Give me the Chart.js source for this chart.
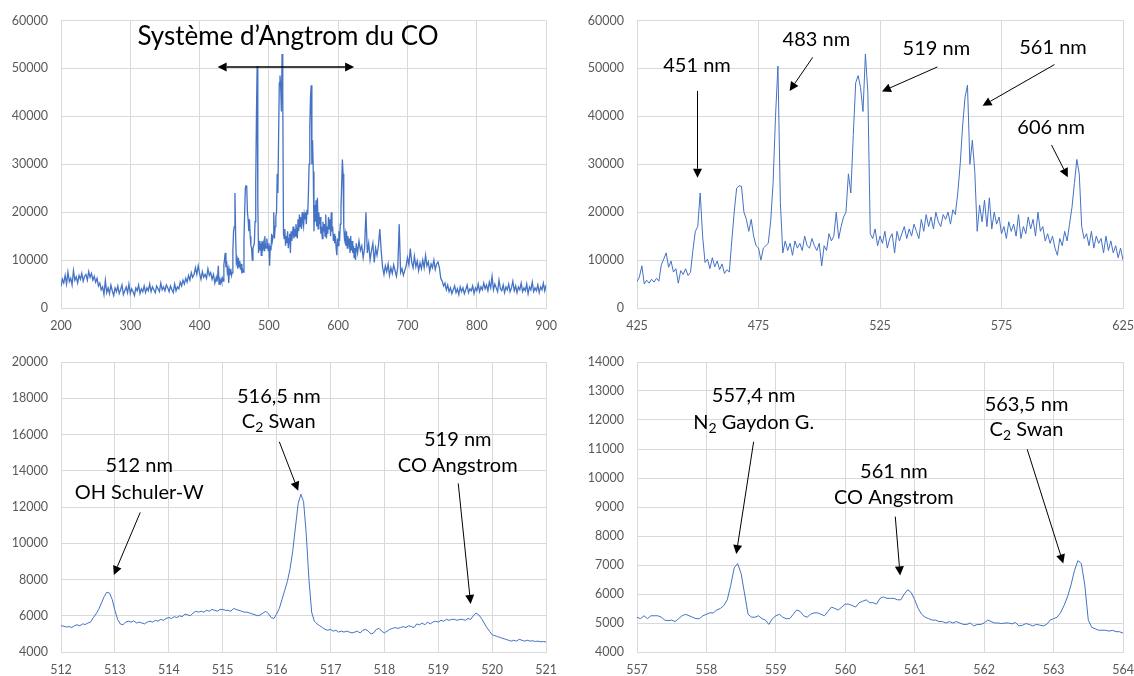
<!DOCTYPE html>
<html>
<head>
<meta charset="utf-8">
<title>Spectres CO</title>
<script src="https://cdn.jsdelivr.net/npm/chart.js@4.4.0/dist/chart.umd.min.js"></script>
<style>
  html, body { margin: 0; padding: 0; background: #fff; overflow: hidden; }
  #page { position: relative; width: 1134px; height: 676px; }
  .panel { position: absolute; }
  .panel canvas { display: block; }
</style>
</head>
<body>
<div id="page">
  <div class="panel" style="left:0;top:0"><canvas id="wide" width="567" height="334"></canvas></div>
  <div class="panel" style="left:567px;top:0"><canvas id="band" width="580" height="334"></canvas></div>
  <div class="panel" style="left:0;top:334px"><canvas id="zoom519" width="567" height="342"></canvas></div>
  <div class="panel" style="left:567px;top:334px"><canvas id="zoom561" width="580" height="342"></canvas></div>
</div>
<script>
// --- Spectre large : 200-424 nm, pas de 2 nm
const uvStart = 200;
const uvCounts = [
    4500, 6000, 5200, 6800, 5000, 7500, 5500, 6200, 4800, 7800,
    5800, 6500, 5200, 6800, 6000, 7200, 5600, 6600, 7000, 5800,
    7600, 6400, 7200, 5800, 6600, 5400, 6200, 4600, 5200, 3800,
    4400, 2800, 5800, 3200, 4200, 3000, 4800, 3600, 2600, 4200,
    3400, 4600, 3000, 3800, 4800, 2800, 3600, 4400, 3200, 5000,
    3000, 4000, 3400, 2600, 4200, 3600, 4800, 3000, 4000, 3400,
    4600, 3200, 4200, 3600, 5000, 3400, 4400, 3800, 3200, 4600,
    4000, 3400, 5200, 3800, 4400, 3600, 4800, 4200, 3400, 4600,
    3800, 3200, 5000, 3600, 4400, 4000, 5400, 4600, 5800, 5000,
    6200, 5400, 6800, 5800, 7400, 6400, 7000, 8400, 7000, 8800,
    7200, 6000, 7600, 6400, 7000, 6200, 8200, 6800, 7400, 6000,
    7000, 5200, 6400
];

// --- Bande d'Angstrom : 425-625 nm, pas de 1 nm (graphe en haut a droite)
const bandStart = 425;
const bandCounts = [
    5500, 6500, 8800, 5000, 5800, 5200, 6000, 5400, 6200, 5600,
    9000, 10200, 11500, 8500, 9800, 7500, 8200, 5200, 7800, 7000,
    8200, 6800, 7400, 12000, 16000, 17000, 24000, 15000, 9500, 10200,
    8200, 10500, 8600, 9800, 8000, 9200, 7200, 8000, 7500, 14000,
    20000, 25000, 25500, 25400, 20000, 18500, 16000, 18500, 15000, 13000,
    12500, 10000, 12500, 13000, 13500, 18000, 26000, 40000, 50500, 22000,
    11500, 14000, 12000, 13500, 11000, 14000, 12500, 13500, 12000, 15000,
    13000, 12500, 14500, 13000, 12000, 13500, 8800, 13000, 12000, 15500,
    14000, 15000, 20000, 14500, 17000, 19000, 20000, 28000, 24000, 36000,
    47000, 48500, 46000, 41000, 53000, 45000, 15500, 14500, 16500, 13000,
    15000, 13500, 16000, 12500, 14500, 15500, 11500, 16000, 14000, 15500,
    17000, 14500, 16500, 15000, 17500, 16000, 14500, 18500, 16000, 19500,
    17000, 19000, 16500, 20000, 18000, 17000, 19500, 18500, 20000, 17500,
    20500, 19500, 24000, 30000, 38000, 44000, 46500, 30000, 35000, 28500,
    16000, 21500, 18000, 22500, 17000, 23000, 16500, 20000, 17500, 19000,
    15500, 17000, 14500, 18000, 16000, 17500, 15000, 19500, 14500, 17000,
    15500, 19000, 16500, 18500, 15000, 20000, 16000, 17000, 14000, 15500,
    13500, 15000, 12500, 11000, 14500, 13000, 16000, 14000, 17500, 21000,
    26000, 31000, 28000, 17000, 14500, 15500, 13000, 16000, 12500, 15000,
    13500, 14500, 11500, 15000, 12000, 14000, 11500, 13000, 10500, 12500,
    10000
];

// --- Spectre large : 626-900 nm, pas de 2 nm
const redStart = 626;
const redCounts = [
    13500, 11500, 14000, 12000, 13000, 10500, 12500, 20000, 11500, 13500,
    10000, 12000, 13500, 9500, 12500, 11000, 13000, 16500, 12000, 8500,
    7000, 8800, 7600, 9200, 6800, 8400, 7200, 9000, 7800, 6600,
    8600, 17500, 7400, 8200, 6800, 7800, 8800, 10500, 9000, 12400,
    9600, 8400, 10800, 8600, 9800, 7800, 9400, 8200, 10000, 8400,
    11000, 8800, 9600, 7600, 9200, 8400, 10000, 8000, 9200, 9600,
    8400, 6200, 5600, 4600, 5200, 3800, 4800, 3400, 4200, 3000,
    3800, 4600, 3200, 4000, 2800, 4400, 3400, 4200, 3000, 3800,
    4800, 3200, 4000, 3600, 4600, 3000, 4200, 3600, 5000, 3400,
    4400, 3800, 5200, 4000, 4800, 3600, 5400, 4200, 6600, 3800,
    5000, 4200, 3400, 5800, 4000, 3600, 4800, 3200, 4400, 3800,
    5000, 3400, 4200, 5600, 3600, 4600, 3200, 4400, 3800, 5200,
    3400, 4200, 3600, 5000, 3000, 4400, 3800, 5400, 3400, 4200,
    3600, 4800, 3200, 4400, 3800, 5200, 3600, 4800
];

// --- Haute resolution autour de 519 nm : 512-521 nm, pas de 0,05 nm
const hr519Start = 512;
const hr519Counts = [
    5450, 5420, 5380, 5400, 5350, 5450, 5500, 5450, 5550, 5520, 5600, 5650, 5900, 6100, 6350, 6700, 7050, 7300, 7250, 6900,
    6300, 5800, 5550, 5500, 5650, 5700, 5650, 5720, 5600, 5650, 5600, 5550, 5650, 5700, 5650, 5750, 5700, 5800, 5750, 5850,
    5900, 5850, 5950, 5900, 6000, 5950, 6100, 6050, 6000, 6150, 6250, 6200, 6250, 6200, 6300, 6250, 6350, 6300, 6250, 6350,
    6350, 6300, 6300, 6250, 6400, 6350, 6300, 6250, 6200, 6200, 6150, 6100, 6050, 6000, 6050, 6150, 6250, 6100, 5900, 5850,
    6100, 6400, 6900, 7400, 7900, 8600, 9600, 10900, 12200, 12700, 12300, 10500, 8000, 6200, 5700, 5550, 5450, 5350, 5250, 5200,
    5250, 5150, 5200, 5100, 5150, 5100, 5150, 5100, 5050, 5100, 5150, 5050, 5200, 5250, 5150, 5000, 5050, 5250, 5300, 5150,
    5050, 5150, 5250, 5300, 5350, 5300, 5350, 5400, 5350, 5450, 5400, 5350, 5550, 5500, 5600, 5500, 5650, 5550, 5650, 5700,
    5650, 5750, 5700, 5800, 5750, 5800, 5800, 5750, 5800, 5800, 5750, 5850, 5800, 6000, 6150, 6050, 5850, 5600, 5350, 5150,
    4950, 4900, 4850, 4800, 4750, 4700, 4650, 4600, 4650, 4600, 4700, 4650, 4600, 4650, 4600, 4620, 4580, 4600, 4560, 4580,
    4550
];

// --- Haute resolution autour de 561 nm : 557-564 nm, pas de 0,05 nm
const hr561Start = 557;
const hr561Counts = [
    5200, 5150, 5250, 5150, 5250, 5250, 5250, 5200, 5100, 5080, 5100, 5050, 5150, 5250, 5300, 5250, 5200, 5150, 5150, 5250,
    5300, 5350, 5350, 5450, 5500, 5600, 5800, 6300, 6900, 7050, 6700, 6000, 5300, 5200, 5200, 5250, 5150, 5100, 4950, 5150,
    5250, 5300, 5200, 5150, 5150, 5300, 5450, 5400, 5250, 5200, 5300, 5350, 5350, 5300, 5250, 5400, 5550, 5500, 5450, 5550,
    5650, 5650, 5600, 5550, 5700, 5750, 5800, 5700, 5700, 5650, 5850, 5900, 5850, 5850, 5850, 5800, 5800, 6000, 6150, 6050,
    5800, 5500, 5300, 5200, 5150, 5100, 5100, 5050, 5050, 5000, 5050, 5000, 5050, 5000, 4950, 4950, 5000, 4900, 4950, 4950,
    5000, 5100, 5050, 5000, 5000, 4980, 5000, 5000, 4970, 5020, 4900, 4920, 4980, 4950, 4900, 4950, 4930, 4900, 4950, 5100,
    5150, 5200, 5350, 5600, 5900, 6300, 6800, 7150, 7050, 6300, 5100, 4850, 4800, 4750, 4750, 4750, 4720, 4750, 4700, 4700,
    4650
];

// Graduations des axes
const wideXTicks = [200, 300, 400, 500, 600, 700, 800, 900];
const bandXTicks = [425, 475, 525, 575, 625];
const hr519XTicks = [512, 513, 514, 515, 516, 517, 518, 519, 520, 521];
const hr561XTicks = [557, 558, 559, 560, 561, 562, 563, 564];
const countTicks = [0, 10000, 20000, 30000, 40000, 50000, 60000];
const hr519YTicks = [4000, 6000, 8000, 10000, 12000, 14000, 16000, 18000, 20000];
const hr561YTicks = [4000, 5000, 6000, 7000, 8000, 9000, 10000, 11000, 12000, 13000, 14000];

// Annotations (coordonnees en nm / coups)
const wideNotes = [
    {text: 'Système d’Angtrom du CO', x: 527.5, y: 56600, size: 26},
    {from: [426, 50300], to: [623, 50300], both: true, width: 1.5}
];
const bandNotes = [
    {text: '451 nm', x: 449.7, y: 50700},
    {from: [449.9, 45300], to: [449.9, 27200]},
    {text: '483 nm', x: 498.8, y: 56100},
    {from: [497.3, 52300], to: [487.8, 45300]},
    {text: '519 nm', x: 548.2, y: 54200},
    {from: [548.6, 50300], to: [525.8, 45200]},
    {text: '561 nm', x: 596.2, y: 54400},
    {from: [596.8, 50800], to: [567.2, 42200]},
    {text: '606 nm', x: 595.4, y: 37600},
    {from: [595.6, 34000], to: [602.3, 27300]}
];
const hr519Notes = [
    {text: '512 nm', x: 513.45, y: 14260},
    {text: 'OH Schuler-W', x: 513.45, y: 12800},
    {from: [513.47, 11700], to: [512.98, 8250]},
    {text: '516,5 nm', x: 516.04, y: 18120},
    {text: 'C_2 Swan', x: 516.04, y: 16740},
    {from: [516.05, 15600], to: [516.4, 12900]},
    {text: '519 nm', x: 519.36, y: 15730},
    {text: 'CO Angstrom', x: 519.36, y: 14310},
    {from: [519.37, 13300], to: [519.6, 6650]}
];
const hr561Notes = [
    {text: '557,4 nm', x: 558.68, y: 12830},
    {text: 'N_2 Gaydon G.', x: 558.68, y: 11910},
    {from: [558.68, 11250], to: [558.43, 7380]},
    {text: '561 nm', x: 560.70, y: 10220},
    {text: 'CO Angstrom', x: 560.70, y: 9330},
    {from: [560.72, 8670], to: [560.79, 6640]},
    {text: '563,5 nm', x: 562.61, y: 12550},
    {text: 'C_2 Swan', x: 562.61, y: 11660},
    {from: [562.62, 10990], to: [563.14, 7050]}
];

const FONT = 'Lato, "Open Sans", sans-serif';

function toPoints(start, step, counts) {
    return counts.map((c, i) => ({x: +(start + i * step).toFixed(2), y: c}));
}

// Texte avec indices (C_2 -> C avec 2 en indice)
function drawLabel(ctx, text, x, y, size) {
    const parts = text.split(/_(\d)/);
    const big = size + 'px ' + FONT;
    const small = Math.round(size * 0.68) + 'px ' + FONT;
    let total = 0;
    parts.forEach((p, i) => {
        ctx.font = i % 2 ? small : big;
        total += ctx.measureText(p).width;
    });
    let cx = x - total / 2;
    ctx.textAlign = 'left';
    ctx.textBaseline = 'middle';
    parts.forEach((p, i) => {
        ctx.font = i % 2 ? small : big;
        ctx.fillText(p, cx, i % 2 ? y + size * 0.3 : y);
        cx += ctx.measureText(p).width;
    });
}

function drawHead(ctx, x, y, a, len, half) {
    const c = Math.cos(a), s = Math.sin(a);
    ctx.beginPath();
    ctx.moveTo(x, y);
    ctx.lineTo(x - len * c + half * s, y - len * s - half * c);
    ctx.lineTo(x - len * c - half * s, y - len * s + half * c);
    ctx.closePath();
    ctx.fill();
}

function drawArrow(ctx, x1, y1, x2, y2, width, both) {
    const a = Math.atan2(y2 - y1, x2 - x1);
    const len = 9, half = 4.5;
    const sx = both ? x1 + len * Math.cos(a) : x1;
    const sy = both ? y1 + len * Math.sin(a) : y1;
    ctx.lineWidth = width;
    ctx.beginPath();
    ctx.moveTo(sx, sy);
    ctx.lineTo(x2 - len * Math.cos(a), y2 - len * Math.sin(a));
    ctx.stroke();
    drawHead(ctx, x2, y2, a, len, half);
    if (both) drawHead(ctx, x1, y1, a + Math.PI, len, half);
}

function notesPlugin(notes) {
    return {
        id: 'notes',
        afterDatasetsDraw(chart) {
            const ctx = chart.ctx;
            const px = v => chart.scales.x.getPixelForValue(v);
            const py = v => chart.scales.y.getPixelForValue(v);
            ctx.save();
            ctx.fillStyle = '#000';
            ctx.strokeStyle = '#000';
            notes.forEach(n => {
                if (n.text) drawLabel(ctx, n.text, px(n.x), py(n.y), n.size || 20);
                if (n.from) drawArrow(ctx, px(n.from[0]), py(n.from[1]), px(n.to[0]), py(n.to[1]), n.width || 1, n.both);
            });
            ctx.restore();
        }
    };
}

function axis(ticks, fitKey, fitSize, pad) {
    return {
        type: 'linear',
        min: ticks[0],
        max: ticks[ticks.length - 1],
        grid: {color: '#d9d9d9', lineWidth: 1, drawTicks: false},
        border: {color: '#d9d9d9'},
        ticks: {
            font: {family: FONT, size: 12.5},
            color: '#595959',
            padding: pad,
            maxRotation: 0,
            autoSkip: false,
            callback: v => String(v)
        },
        afterBuildTicks: scale => { scale.ticks = ticks.map(v => ({value: v})); },
        afterFit: scale => { scale[fitKey] = fitSize; }
    };
}

function buildChart(id, points, s) {
    return new Chart(document.getElementById(id), {
        type: 'line',
        data: {
            datasets: [{
                data: points,
                borderColor: '#4472C4',
                borderWidth: s.lineW || 1,
                pointRadius: 0,
                tension: 0,
                fill: false
            }]
        },
        options: {
            responsive: false,
            animation: false,
            devicePixelRatio: 1,
            parsing: false,
            layout: {padding: {top: s.top, right: s.right, left: 0, bottom: 0}},
            plugins: {legend: {display: false}, tooltip: {enabled: false}},
            scales: {
                x: axis(s.xTicks, 'height', s.xAxisH, 10),
                y: axis(s.yTicks, 'width', s.yAxisW, 13)
            }
        },
        plugins: [notesPlugin(s.notes)]
    });
}

const bandPoints = toPoints(bandStart, 1, bandCounts);
const widePoints = toPoints(uvStart, 2, uvCounts)
    .concat(bandPoints)
    .concat(toPoints(redStart, 2, redCounts));

buildChart('wide', widePoints, {
    xTicks: wideXTicks, yTicks: countTicks, notes: wideNotes,
    top: 18, right: 19, yAxisW: 61, xAxisH: 26, lineW: 1.3
});
buildChart('band', bandPoints, {
    xTicks: bandXTicks, yTicks: countTicks, notes: bandNotes,
    top: 18, right: 24, yAxisW: 70, xAxisH: 26
});
buildChart('zoom519', toPoints(hr519Start, 0.05, hr519Counts), {
    xTicks: hr519XTicks, yTicks: hr519YTicks, notes: hr519Notes,
    top: 28, right: 19, yAxisW: 61, xAxisH: 24
});
buildChart('zoom561', toPoints(hr561Start, 0.05, hr561Counts), {
    xTicks: hr561XTicks, yTicks: hr561YTicks, notes: hr561Notes,
    top: 28, right: 24, yAxisW: 70, xAxisH: 24
});
</script>
</body>
</html>
